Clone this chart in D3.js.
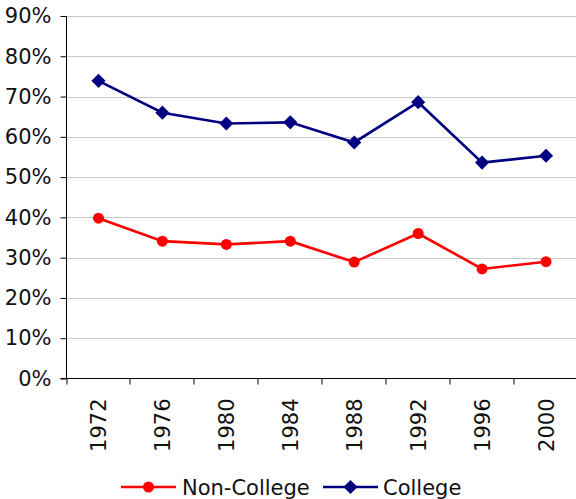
<!DOCTYPE html>
<html><head><meta charset="utf-8">
<script src="https://cdn.jsdelivr.net/npm/d3@7"></script>
<style>body{margin:0;background:#fff}svg{display:block}text{font-family:"DejaVu Sans",Verdana,sans-serif;fill:#111}</style>
</head><body><svg id="c" width="576" height="499"></svg>
<script>
const years = ["1972","1976","1980","1984","1988","1992","1996","2000"];
const nonCollege = [39.8, 34.1, 33.3, 34.1, 28.9, 36.0, 27.2, 29.0];
const college = [73.9, 66.0, 63.3, 63.6, 58.6, 68.6, 53.6, 55.3];
const yTicks = [0,10,20,30,40,50,60,70,80,90];
const seriesNames = ["Non-College","College"];
const seriesColors = ["#ff0000","#000080"];

const svg = d3.select("#c");
const L = 66.5, R = 578, T = 16, B = 378.5;
const x = d3.scaleBand().domain(years).range([L, R]);
const y = d3.scaleLinear().domain([0, 90]).range([B, T]);

// gridlines
svg.append("g").selectAll("line").data(yTicks.filter(d=>d>0)).join("line")
  .attr("x1", L).attr("x2", 576).attr("y1", d=>Math.round(y(d))+0.5).attr("y2", d=>Math.round(y(d))+0.5)
  .attr("stroke", "#c8c8c8").attr("stroke-width", 1);

// y axis
const yAxis = d3.axisLeft(y).tickValues(yTicks).tickFormat(d=>d+"%").tickSize(6).tickPadding(9);
const gy = svg.append("g").attr("transform", `translate(${L},0)`).call(yAxis);
gy.select(".domain").remove();
gy.append("line").attr("x1",0).attr("x2",0).attr("y1",T).attr("y2",B).attr("stroke","#000");
gy.selectAll(".tick line").attr("stroke","#000");
gy.selectAll("text").style("font-size","21px").attr("fill","#111").style("font-family","'DejaVu Sans',Verdana,sans-serif");

// x axis
const gx = svg.append("g").attr("transform", `translate(0,${B})`);
gx.append("line").attr("x1",L-6).attr("x2",576).attr("y1",0).attr("y2",0).attr("stroke","#000");
const bounds = years.map((d,i)=>x(d)).concat([R]);
gx.selectAll("line.t").data(bounds.filter(v=>v<=576)).join("line").attr("class","t")
  .attr("x1",d=>Math.round(d)).attr("x2",d=>Math.round(d)).attr("y1",0).attr("y2",6).attr("stroke","#000");
gx.selectAll("text").data(years).join("text")
  .attr("transform", d=>`translate(${x(d)+x.bandwidth()/2+8},20) rotate(-90)`)
  .attr("text-anchor","end")
  .style("font-size","21px")
  .text(d=>d);

const line = d3.line().x((d,i)=>x(years[i])+x.bandwidth()/2).y(d=>y(d));
const data = [nonCollege, college];
data.forEach((vals, si)=>{
  const g = svg.append("g");
  g.append("path").attr("d", line(vals)).attr("fill","none").attr("stroke",seriesColors[si]).attr("stroke-width",2.6);
  if (si===0) {
    g.selectAll("circle").data(vals).join("circle")
      .attr("cx",(d,i)=>x(years[i])+x.bandwidth()/2).attr("cy",d=>y(d)).attr("r",5.5).attr("fill",seriesColors[si]);
  } else {
    g.selectAll("path.m").data(vals).join("path").attr("class","m")
      .attr("d", d3.symbol(d3.symbolSquare, 100))
      .attr("transform",(d,i)=>`translate(${x(years[i])+x.bandwidth()/2},${y(d)}) rotate(45)`)
      .attr("fill",seriesColors[si]);
  }
});

// legend
const legY = 487;
const legItems = [{x:121, tx:182}, {x:323, tx:383}];
seriesNames.forEach((n,si)=>{
  const lg = svg.append("g");
  const lx = legItems[si].x;
  lg.append("line").attr("x1",lx).attr("x2",lx+55).attr("y1",legY).attr("y2",legY).attr("stroke",seriesColors[si]).attr("stroke-width",2.6);
  if (si===0) lg.append("circle").attr("cx",lx+27.5).attr("cy",legY).attr("r",5.5).attr("fill",seriesColors[si]);
  else lg.append("path").attr("d",d3.symbol(d3.symbolSquare,100)).attr("transform",`translate(${lx+27.5},${legY}) rotate(45)`).attr("fill",seriesColors[si]);
  lg.append("text").attr("x",legItems[si].tx).attr("y",legY+7.5).style("font-size","21px").text(n);
});
</script></body></html>
